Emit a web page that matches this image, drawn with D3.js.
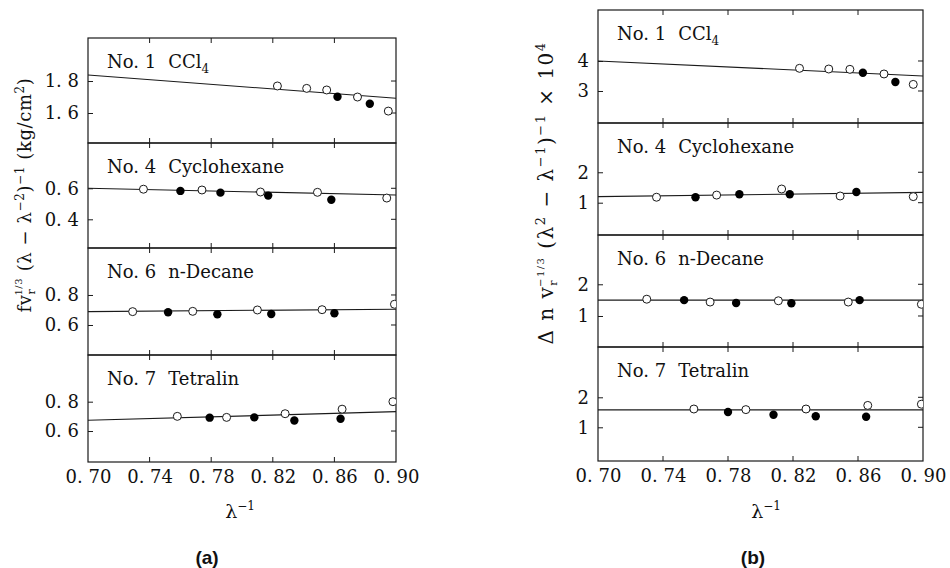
<!DOCTYPE html>
<html>
<head>
<meta charset="utf-8">
<script src="https://cdn.jsdelivr.net/npm/d3@7"></script>
<style>
  body { margin: 0; background: #fff; }
  text { font-family: 'DejaVu Serif', 'Liberation Serif', serif; fill: #111; }
</style>
</head>
<body>
<div class="canvas"></div>
<script>
// x axis (λ^-1) ticks shared by both panels
const lamTicks = [0.70, 0.74, 0.78, 0.82, 0.86, 0.90];

const liquids = ['CCl', 'Cyclohexane', 'n-Decane', 'Tetralin'];
const liquidNos = [1, 4, 6, 7];

// ---- panel (a): f v_r^1/3 (λ - λ^-2)^-1 ----
// [λ^-1, value]
const a1Open = [[0.823, 1.769], [0.842, 1.754], [0.855, 1.744], [0.875, 1.700], [0.895, 1.612]];
const a1Filled = [[0.862, 1.702], [0.883, 1.658]];
const a1Fit = [1.838, 1.692]; // at λ^-1 = 0.70 and 0.90
const a2Open = [[0.736, 0.594], [0.774, 0.589], [0.812, 0.576], [0.849, 0.574], [0.894, 0.537]];
const a2Filled = [[0.760, 0.583], [0.786, 0.572], [0.817, 0.553], [0.858, 0.526]];
const a2Fit = [0.600, 0.557];
const a3Open = [[0.729, 0.689], [0.768, 0.691], [0.810, 0.700], [0.852, 0.702], [0.899, 0.738]];
const a3Filled = [[0.752, 0.685], [0.784, 0.671], [0.819, 0.673], [0.860, 0.678]];
const a3Fit = [0.689, 0.705];
const a4Open = [[0.758, 0.700], [0.790, 0.693], [0.828, 0.718], [0.865, 0.749], [0.898, 0.800]];
const a4Filled = [[0.779, 0.691], [0.808, 0.693], [0.834, 0.672], [0.864, 0.684]];
const a4Fit = [0.673, 0.732];
const aYTicks = [[1.6, 1.8], [0.4, 0.6], [0.6, 0.8], [0.6, 0.8]];

// ---- panel (b): Δn v_r^-1/3 (λ^2 - λ^-1)^-1 × 10^4 ----
const b1Open = [[0.824, 3.756], [0.842, 3.733], [0.855, 3.722], [0.876, 3.567], [0.894, 3.22]];
const b1Filled = [[0.863, 3.61], [0.883, 3.30]];
const b1Fit = [4.0, 3.5];
const b2Open = [[0.736, 1.18], [0.773, 1.25], [0.813, 1.45], [0.849, 1.22], [0.894, 1.20]];
const b2Filled = [[0.760, 1.18], [0.787, 1.28], [0.818, 1.28], [0.859, 1.35]];
const b2Fit = [1.20, 1.34];
const b3Open = [[0.730, 1.53], [0.769, 1.44], [0.811, 1.48], [0.854, 1.44], [0.899, 1.37]];
const b3Filled = [[0.753, 1.50], [0.785, 1.41], [0.819, 1.40], [0.861, 1.50]];
const b3Fit = [1.50, 1.50];
const b4Open = [[0.759, 1.61], [0.791, 1.59], [0.828, 1.61], [0.866, 1.73], [0.899, 1.77]];
const b4Filled = [[0.780, 1.51], [0.808, 1.42], [0.834, 1.37], [0.865, 1.35]];
const b4Fit = [1.58, 1.58];
const bYTicks = [[3, 4], [1, 2], [1, 2], [1, 2]];

const svg = d3.select('.canvas')
  .append('svg')
  .attr('width', 950)
  .attr('height', 568);

const fmt = (d) => (Number.isInteger(d) ? String(d) : d3.format('.1f')(d).replace('.', '. '));
const fmtX = (d) => d3.format('.2f')(d).replace('.', '. ');

// layout of both panels (pixel geometry)
const panels = [
  {
    id: 'a', left: 88, right: 396, bounds: [38, 143, 248, 355, 462],
    yDomains: [[1.4125, 2.069], [0.215, 0.892], [0.40, 1.113], [0.389, 1.118]],
    yTicks: aYTicks,
    sets: [[a1Open, a1Filled, a1Fit], [a2Open, a2Filled, a2Fit], [a3Open, a3Filled, a3Fit], [a4Open, a4Filled, a4Fit]],
    labelX: 240, tagX: 207
  },
  {
    id: 'b', left: 598, right: 923, bounds: [10, 123, 235, 347, 461],
    yDomains: [[1.933, 5.7], [-0.062, 3.62], [0.022, 3.555], [-0.123, 3.677]],
    yTicks: bYTicks,
    sets: [[b1Open, b1Filled, b1Fit], [b2Open, b2Filled, b2Fit], [b3Open, b3Filled, b3Fit], [b4Open, b4Filled, b4Fit]],
    labelX: 766, tagX: 753
  }
];

const line = '#1a1a1a';

panels.forEach((p) => {
  const x = d3.scaleLinear().domain([0.70, 0.90]).range([p.left, p.right]);
  const g = svg.append('g');

  p.sets.forEach((set, i) => {
    const top = p.bounds[i];
    const bottom = p.bounds[i + 1];
    const y = d3.scaleLinear().domain(p.yDomains[i]).range([bottom, top]);
    const [open, filled, fit] = set;
    const clipId = `clip-${p.id}${i}`;

    svg.append('clipPath').attr('id', clipId)
      .append('rect')
      .attr('x', p.left).attr('y', top)
      .attr('width', p.right - p.left).attr('height', bottom - top);

    const sub = g.append('g');

    // frame
    sub.append('rect')
      .attr('x', p.left).attr('y', top)
      .attr('width', p.right - p.left).attr('height', bottom - top)
      .attr('fill', 'none').attr('stroke', line).attr('stroke-width', 1.2);

    // x ticks, inward at top and bottom
    lamTicks.slice(1, -1).forEach((t) => {
      sub.append('line').attr('x1', x(t)).attr('x2', x(t))
        .attr('y1', bottom).attr('y2', bottom - 5).attr('stroke', line);
      sub.append('line').attr('x1', x(t)).attr('x2', x(t))
        .attr('y1', top).attr('y2', top + 5).attr('stroke', line);
    });

    // y axis (left) + mirrored ticks on right
    const yAxis = d3.axisLeft(y).tickValues(p.yTicks[i]).tickSize(-5).tickPadding(9).tickFormat(fmt);
    const yg = sub.append('g').attr('transform', `translate(${p.left},0)`).call(yAxis);
    yg.select('.domain').remove();
    yg.selectAll('line').attr('stroke', line);
    yg.selectAll('text').attr('font-size', 18).attr('font-family', "'DejaVu Serif', serif").attr('fill', '#111');
    p.yTicks[i].forEach((t) => {
      sub.append('line').attr('x1', p.right).attr('x2', p.right - 5)
        .attr('y1', y(t)).attr('y2', y(t)).attr('stroke', line);
    });

    // fitted line
    sub.append('line')
      .attr('x1', x(0.70)).attr('y1', y(fit[0]))
      .attr('x2', x(0.90)).attr('y2', y(fit[1]))
      .attr('stroke', line).attr('stroke-width', 1.1);

    const marks = sub.append('g').attr('clip-path', `url(#${clipId})`);
    marks.selectAll('circle.open').data(open).enter().append('circle')
      .attr('class', 'open')
      .attr('cx', (d) => x(d[0])).attr('cy', (d) => y(d[1])).attr('r', 4)
      .attr('fill', '#fff').attr('stroke', line).attr('stroke-width', 1);
    marks.selectAll('circle.filled').data(filled).enter().append('circle')
      .attr('class', 'filled')
      .attr('cx', (d) => x(d[0])).attr('cy', (d) => y(d[1])).attr('r', 4.2)
      .attr('fill', '#000');

    // sample title
    const title = sub.append('text')
      .attr('x', p.left + 19).attr('y', top + 30)
      .attr('font-size', 18);
    title.append('tspan').text(`No. ${liquidNos[i]}`);
    title.append('tspan').attr('dx', 12).text(liquids[i]);
    if (i === 0) {
      title.append('tspan').attr('dy', 5).attr('font-size', 12).text('4');
    }
  });

  // bottom x axis labels
  const bottom = p.bounds[p.bounds.length - 1];
  const xAxis = d3.axisBottom(x).tickValues(lamTicks).tickSize(0).tickPadding(8).tickFormat(fmtX);
  const xg = g.append('g').attr('transform', `translate(0,${bottom})`).call(xAxis);
  xg.select('.domain').remove();
  xg.selectAll('text').attr('font-size', 18).attr('font-family', "'DejaVu Serif', serif").attr('fill', '#111');

  const xl = g.append('text').attr('x', p.labelX).attr('y', 518)
    .attr('text-anchor', 'middle').attr('font-size', 19);
  xl.append('tspan').text('λ');
  xl.append('tspan').attr('dy', -8).attr('font-size', 12).text('−1');

  g.append('text').attr('x', p.tagX).attr('y', 564)
    .attr('text-anchor', 'middle')
    .attr('font-size', 19).attr('font-weight', 'bold')
    .style('font-family', "'Liberation Sans', Arial, sans-serif")
    .text(`(${p.id})`);
});

// y axis titles (rotated)
const ya = svg.append('text')
  .attr('transform', 'translate(31,195) rotate(-90)')
  .attr('text-anchor', 'middle').attr('font-size', 18)
  .attr('letter-spacing', 0.6);
ya.append('tspan').text('fv');
ya.append('tspan').attr('dy', 4).attr('font-size', 11).text('r');
ya.append('tspan').attr('dx', -7).attr('dy', -13).attr('font-size', 10).text('1/3');
ya.append('tspan').attr('dy', 9).text(' (λ − λ');
ya.append('tspan').attr('dy', -7).attr('font-size', 12).text('−2');
ya.append('tspan').attr('dy', 7).text(')');
ya.append('tspan').attr('dy', -7).attr('font-size', 12).text('−1');
ya.append('tspan').attr('dy', 7).text(' (kg/cm');
ya.append('tspan').attr('dy', -7).attr('font-size', 12).text('2');
ya.append('tspan').attr('dy', 7).text(')');

const yb = svg.append('text')
  .attr('transform', 'translate(553,193) rotate(-90)')
  .attr('text-anchor', 'middle').attr('font-size', 20)
  .attr('letter-spacing', 1.5);
yb.append('tspan').text('Δ n v');
yb.append('tspan').attr('dy', 4).attr('font-size', 11).text('r');
yb.append('tspan').attr('dx', -8).attr('dy', -13).attr('font-size', 10).text('−1/3');
yb.append('tspan').attr('dy', 9).text(' (λ');
yb.append('tspan').attr('dy', -8).attr('font-size', 13).text('2');
yb.append('tspan').attr('dy', 8).text(' − λ');
yb.append('tspan').attr('dy', -8).attr('font-size', 13).text('−1');
yb.append('tspan').attr('dy', 8).text(')');
yb.append('tspan').attr('dy', -8).attr('font-size', 13).text('−1');
yb.append('tspan').attr('dy', 8).text(' × 10');
yb.append('tspan').attr('dy', -8).attr('font-size', 13).text('4');
</script>
</body>
</html>
